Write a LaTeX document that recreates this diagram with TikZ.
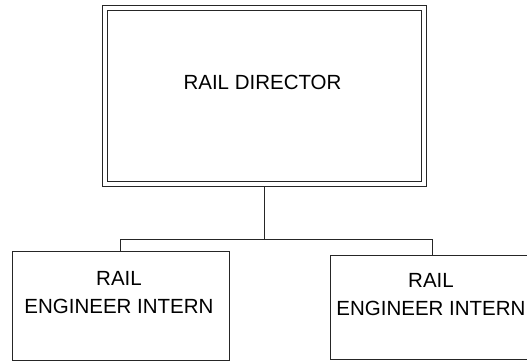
\documentclass[tikz,border=0pt]{standalone}
\usepackage{fontspec}
\setmainfont{Liberation Sans}
\begin{document}
\begin{tikzpicture}[x=1bp,y=-1bp,
  box/.style={draw=black!85,line width=0.8bp,fill=none,inner sep=0pt,outer sep=0pt},
  lbl/.style={inner sep=0pt,outer sep=0pt,align=center,font=\fontsize{20.5bp}{27.4bp}\selectfont},
  conn/.style={draw=black!85,line width=0.8bp}]
\useasboundingbox (0,0) rectangle (527,361);
% top box (double frame)
\node[box,minimum width=323.6bp,minimum height=180.3bp] (dirout) at (264.5,95.85) {};
\node[box,minimum width=314.7bp,minimum height=171.7bp] (dir) at (264.35,95.85) {};
\node[lbl,anchor=base] (dirlbl) at (262.5,89.3) {RAIL DIRECTOR};
% bottom boxes
\node[box,minimum width=216.3bp,minimum height=108.5bp] (left) at (120.85,305.75) {};
\node[lbl] (leftlbl) at (119,292.6) {RAIL\\ENGINEER INTERN};
\node[box,minimum width=204bp,minimum height=104.3bp] (right) at (432.7,307.15) {};
\node[lbl] (rightlbl) at (431,294.5) {RAIL\\ENGINEER INTERN};
% connectors
\coordinate (bus) at (264.5,239);
\draw[conn] (dirout.south) -- (bus);
\draw[conn] (bus) -| (left.north);
\draw[conn] (bus) -| (right.north);
\end{tikzpicture}
\end{document}
